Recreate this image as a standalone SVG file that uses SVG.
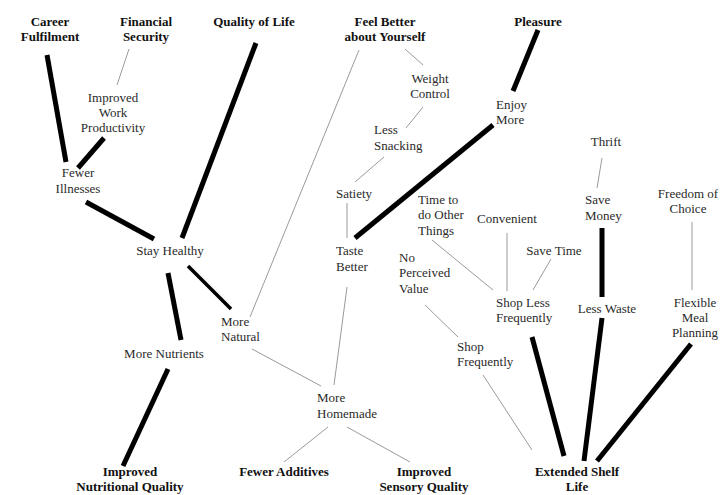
<svg xmlns="http://www.w3.org/2000/svg" width="720" height="495" viewBox="0 0 720 495">
<style>
text{font-family:"Liberation Serif","Times New Roman",serif;font-size:13px;fill:#2a2a2a}
.b{font-weight:bold;fill:#111;text-anchor:middle}
.c{text-anchor:middle}
.s{text-anchor:start}
.thin{stroke:#9a9a9a;stroke-width:1;fill:none}
.thick{stroke:#000;stroke-width:5;fill:none}
.mid{stroke:#000;stroke-width:3.5;fill:none}
</style>
<rect width="720" height="495" fill="#fff"/>
<g id="connectors" stroke-linecap="butt">
<line class="thick" x1="47" y1="55" x2="66" y2="162"/>
<line class="thick" x1="104" y1="138" x2="78" y2="168"/>
<line class="thick" x1="256" y1="43" x2="182" y2="238"/>
<line class="thick" x1="86" y1="202" x2="154" y2="239"/>
<line class="thick" x1="168" y1="273" x2="181" y2="340"/>
<line class="thick" x1="168" y1="369" x2="123" y2="466"/>
<line class="mid" x1="188" y1="266" x2="231" y2="309"/>
<line class="thick" x1="538" y1="30" x2="513" y2="91"/>
<line class="thick" x1="493" y1="125" x2="355" y2="238"/>
<line class="thick" x1="602" y1="228" x2="602" y2="297"/>
<line class="thick" x1="602" y1="318" x2="584" y2="461"/>
<line class="thick" x1="532" y1="337" x2="564" y2="456"/>
<line class="thick" x1="691" y1="344" x2="597" y2="461"/>
<line class="thin" x1="129" y1="49" x2="117" y2="85"/>
<line class="thin" x1="359" y1="50" x2="250" y2="317"/>
<line class="thin" x1="405" y1="49" x2="423" y2="65"/>
<line class="thin" x1="423" y1="107" x2="406" y2="128"/>
<line class="thin" x1="384" y1="157" x2="355" y2="182"/>
<line class="thin" x1="347" y1="203" x2="347" y2="238"/>
<line class="thin" x1="347" y1="287" x2="334" y2="385"/>
<line class="thin" x1="252" y1="349" x2="321" y2="386"/>
<line class="thin" x1="328" y1="427" x2="284" y2="462"/>
<line class="thin" x1="347" y1="427" x2="410" y2="462"/>
<line class="thin" x1="432" y1="240" x2="493" y2="290"/>
<line class="thin" x1="507" y1="233" x2="507" y2="291"/>
<line class="thin" x1="551" y1="259" x2="533" y2="290"/>
<line class="thin" x1="425" y1="305" x2="458" y2="337"/>
<line class="thin" x1="483" y1="375" x2="532" y2="450"/>
<line class="thin" x1="602" y1="158" x2="597" y2="188"/>
<line class="thin" x1="692" y1="222" x2="692" y2="290"/>
</g>
<g id="career"><text class="b" x="50" y="26">Career<tspan x="50" y="41">Fulfilment</tspan></text></g>
<g id="financial"><text class="b" x="146" y="26">Financial<tspan x="146" y="41">Security</tspan></text></g>
<g id="quality"><text class="b" x="254" y="26">Quality of Life</text></g>
<g id="feelbetter"><text class="b" x="385" y="26">Feel Better<tspan x="385" y="41">about Yourself</tspan></text></g>
<g id="pleasure"><text class="b" x="538" y="26">Pleasure</text></g>
<g id="weight"><text class="c" x="430" y="83">Weight<tspan x="430" y="98">Control</tspan></text></g>
<g id="work"><text class="c" x="113" y="102">Improved<tspan x="113" y="117">Work</tspan><tspan x="113" y="132">Productivity</tspan></text></g>
<g id="enjoy"><text class="s" x="496" y="109">Enjoy<tspan x="496" y="124">More</tspan></text></g>
<g id="snacking"><text class="s" x="374" y="134">Less<tspan x="374" y="150">Snacking</tspan></text></g>
<g id="thrift"><text class="c" x="606" y="146">Thrift</text></g>
<g id="illnesses"><text class="c" x="78" y="177">Fewer<tspan x="78" y="193">Illnesses</tspan></text></g>
<g id="satiety"><text class="s" x="336" y="198">Satiety</text></g>
<g id="timeother"><text class="s" x="418" y="204">Time to<tspan x="418" y="219">do Other</tspan><tspan x="418" y="235">Things</tspan></text></g>
<g id="convenient"><text class="c" x="507" y="223">Convenient</text></g>
<g id="savemoney"><text class="s" x="585" y="204">Save<tspan x="585" y="220">Money</tspan></text></g>
<g id="freedom"><text class="c" x="688" y="198">Freedom of<tspan x="688" y="213">Choice</tspan></text></g>
<g id="stayhealthy"><text class="c" x="170" y="255">Stay Healthy</text></g>
<g id="taste"><text class="s" x="336" y="255">Taste<tspan x="336" y="271">Better</tspan></text></g>
<g id="savetime"><text class="c" x="554" y="255">Save Time</text></g>
<g id="noperceived"><text class="s" x="399" y="262">No<tspan x="399" y="277">Perceived</tspan><tspan x="399" y="293">Value</tspan></text></g>
<g id="shopless"><text class="s" x="496" y="307">Shop Less<tspan x="496" y="322">Frequently</tspan></text></g>
<g id="lesswaste"><text class="c" x="607" y="313">Less Waste</text></g>
<g id="flexible"><text class="c" x="695" y="307">Flexible<tspan x="695" y="322">Meal</tspan><tspan x="695" y="337">Planning</tspan></text></g>
<g id="natural"><text class="s" x="221" y="326">More<tspan x="221" y="341">Natural</tspan></text></g>
<g id="nutrients"><text class="c" x="164" y="358">More Nutrients</text></g>
<g id="shopfreq"><text class="s" x="457" y="351">Shop<tspan x="457" y="366">Frequently</tspan></text></g>
<g id="homemade"><text class="s" x="317" y="402">More<tspan x="317" y="418">Homemade</tspan></text></g>
<g id="nutritional"><text class="b" x="130" y="476">Improved<tspan x="130" y="491">Nutritional Quality</tspan></text></g>
<g id="additives"><text class="b" x="284" y="476">Fewer Additives</text></g>
<g id="sensory"><text class="b" x="424" y="476">Improved<tspan x="424" y="491">Sensory Quality</tspan></text></g>
<g id="shelflife"><text class="b" x="577" y="476">Extended Shelf<tspan x="577" y="491">Life</tspan></text></g>
</svg>
